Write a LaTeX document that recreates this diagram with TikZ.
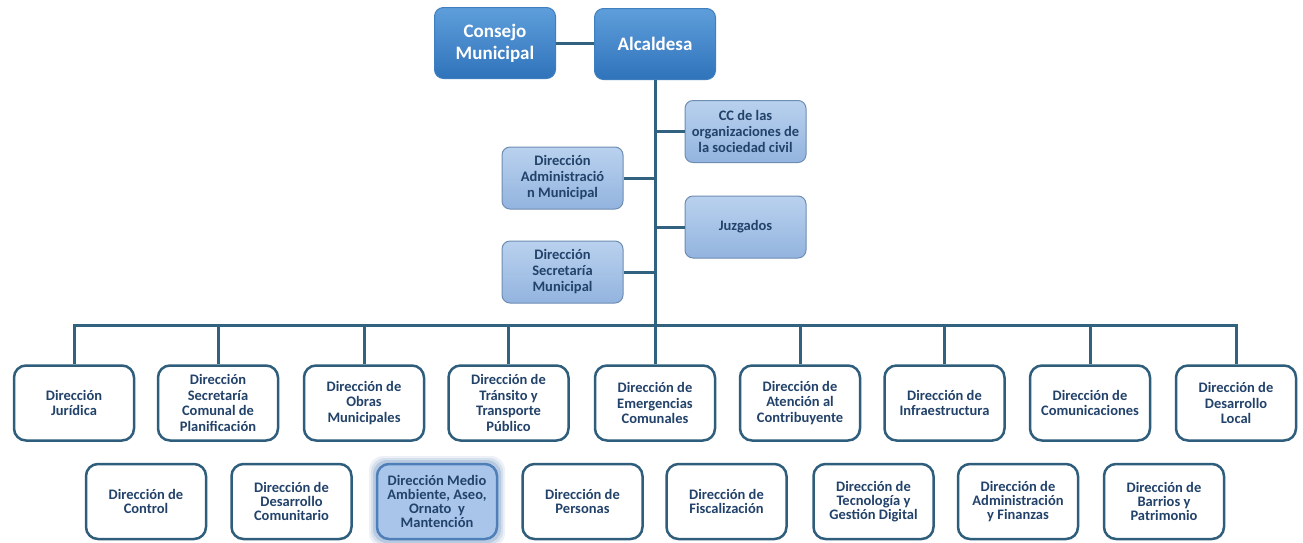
\documentclass[tikz,border=0pt]{standalone}
\usepackage{fontspec}
\setmainfont{Carlito}
\begin{document}
\definecolor{linec}{HTML}{31627F}
\definecolor{navy}{HTML}{22426A}
\definecolor{topA}{HTML}{5E9EDB}
\definecolor{topB}{HTML}{2F73BA}
\definecolor{topEdge}{HTML}{3F7FBF}
\definecolor{midA}{HTML}{B9D1EE}
\definecolor{midB}{HTML}{93B4DF}
\definecolor{midEdge}{HTML}{6E8DB3}
\definecolor{boxEdge}{HTML}{2F5E7C}
\definecolor{hiFill}{HTML}{A9C6EA}
\definecolor{hiEdge}{HTML}{4F7FB8}
\begin{tikzpicture}[x=1pt,y=-1pt,
  conn/.style={draw=linec,line width=3pt},
  headbox/.style={rounded corners=9pt,draw=topEdge,line width=1pt,
    top color=topA,bottom color=topB,text=white,
    font=\fontsize{19}{22}\selectfont\bfseries,align=center,
    minimum width=121pt,minimum height=71pt,inner sep=2pt},
  midbox/.style={rounded corners=8pt,draw=midEdge,line width=1pt,
    top color=midA,bottom color=midB,text=navy,
    font=\fontsize{14.5}{16}\selectfont\bfseries,align=center,
    minimum width=121pt,minimum height=62pt,inner sep=2pt},
  unitbox/.style={rounded corners=12pt,draw=boxEdge,line width=2.5pt,fill=white,
    text=navy,font=\fontsize{14.5}{15.5}\selectfont\bfseries,align=center,
    minimum width=120pt,minimum height=75pt,inner sep=2pt},
  unitboxb/.style={unitbox,font=\fontsize{14.5}{13.8}\selectfont\bfseries,
    execute at begin node={\rule{0pt}{19pt}}},
  hibox/.style={unitboxb,draw=hiEdge,fill=hiFill}
]
\useasboundingbox[fill=white] (0,0) rectangle (1303,542);

% top level
\node[headbox] (cons) at (495,43) {Consejo\\Municipal};
\node[headbox] (alc) at (655,44) {Alcaldesa};

% staff units along the trunk
\node[midbox] (cc)  at (745.5,131.5) {CC de las\\organizaciones de\\la sociedad civil};
\node[midbox] (adm) at (562.5,178) {Dirección\\Administració\\n Municipal};
\node[midbox] (juz) at (745.5,227) {Juzgados};
\node[midbox] (sec) at (562.5,272) {Dirección\\Secretaría\\Municipal};

% bus junction
\coordinate (bus) at (655,325);

% first row of directorates
\node[unitbox] (r1) at (74,403)    {Dirección\\Jurídica};
\node[unitbox] (r2) at (218,403)   {Dirección\\Secretaría\\Comunal de\\Planificación};
\node[unitbox] (r3) at (364,403)   {Dirección de\\Obras\\Municipales};
\node[unitbox] (r4) at (508.5,403) {Dirección de\\Tránsito y\\Transporte\\Público};
\node[unitbox] (r5) at (655,403)   {Dirección de\\Emergencias\\Comunales};
\node[unitbox] (r6) at (800,403)   {Dirección de\\Atención al\\Contribuyente};
\node[unitbox] (r7) at (944.5,403) {Dirección de\\Infraestructura};
\node[unitbox] (r8) at (1090,403)  {Dirección de\\Comunicaciones};
\node[unitbox] (r9) at (1236,403)  {Dirección de\\Desarrollo\\Local};

% glow behind the highlighted directorate
\foreach \g/\o in {7/0.10,5/0.15,3/0.22}
  \fill[hiEdge,opacity=\o,rounded corners=14pt]
    (376-\g,463-\g) rectangle (498+\g,540+\g);

% second row of directorates
\node[unitboxb] (s1) at (146,501.5)   {Dirección de\\Control};
\node[unitboxb] (s2) at (291.5,501.5) {Dirección de\\Desarrollo\\Comunitario};
\node[hibox]    (s3) at (437,501.5)   {Dirección Medio\\Ambiente, Aseo,\\Ornato~ y\\Mantención};
\node[unitboxb] (s4) at (582.5,501.5) {Dirección de\\Personas};
\node[unitboxb] (s5) at (726.5,501.5) {Dirección de\\Fiscalización};
\node[unitboxb] (s6) at (873.5,501.5) {Dirección de\\Tecnología y\\Gestión Digital};
\node[unitboxb] (s7) at (1018,501.5)  {Dirección de\\Administración\\y Finanzas};
\node[unitboxb] (s8) at (1164,501.5)  {Dirección de\\Barrios y\\Patrimonio};

% connectors
\draw[conn] (cons.east) -- (cons.east -| alc.west);
\draw[conn] (alc.south) -- (bus);
\draw[conn] (cc.west) -- (cc.west -| bus);
\draw[conn] (juz.west) -- (juz.west -| bus);
\draw[conn] (adm.east) -- (adm.east -| bus);
\draw[conn] (sec.east) -- (sec.east -| bus);
\foreach \n in {r1,r2,r3,r4,r5,r6,r7,r8,r9}
  \draw[conn] (\n.north) |- (bus);
\end{tikzpicture}
\end{document}
